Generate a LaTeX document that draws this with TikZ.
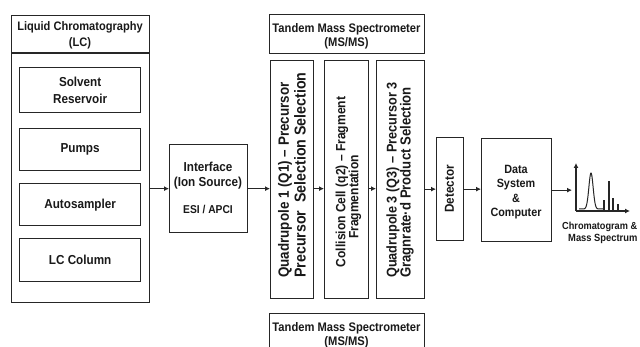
\documentclass[tikz,border=0pt]{standalone}
\usepackage{fontspec}
\setmainfont{Liberation Sans}[FakeStretch=0.9]
\usetikzlibrary{arrows.meta}
\newcommand{\fs}[1]{\fontsize{#1}{#1}\selectfont}
\begin{document}
\begin{tikzpicture}[x=1pt,y=-1pt,
  box/.style={draw=black!85,line width=1.3pt,inner sep=0pt,anchor=north west},
  txt/.style={font=\bfseries\fs{13},align=center,inner sep=0pt,text=black!90},
  rtxt/.style={txt,rotate=90,anchor=west},
  arr/.style={draw=black!85,line width=1.2pt,-{Latex[length=5pt,width=5pt]}},
  ax/.style={draw=black!85,line width=1.2pt}]
\useasboundingbox (0,0) rectangle (640,347);
\fill[white] (0,0) rectangle (640,347);
% LC
\node[box,minimum width=138pt,minimum height=287pt] (lc) at (11,15) {};
\draw[ax,line width=1.3pt] ([yshift=-38pt]lc.north west) -- ([yshift=-38pt]lc.north east) coordinate (lcdiv);
\node[txt,font=\bfseries\fontsize{12.3}{16}\selectfont] (lct) at (80,35) {Liquid Chromatography\\(LC)};
\node[box,minimum width=121pt,minimum height=45pt,txt,anchor=north west,font=\bfseries\fontsize{13}{17}\selectfont] (sr) at (19,67) {Solvent\\Reservoir};
\node[box,minimum width=121pt,minimum height=42pt,txt,anchor=north west] (pu) at (19,128) {Pumps};
\node[box,minimum width=121pt,minimum height=42pt,txt,anchor=north west] (au) at (19,183) {Autosampler};
\node[box,minimum width=121pt,minimum height=43pt,txt,anchor=north west] (lcc) at (19,238) {LC Column};
% Interface
\node[box,minimum width=78pt,minimum height=88pt] (int) at (169,144) {};
\node[txt,font=\bfseries\fontsize{13}{15}\selectfont] (intt) at (208,176) {Interface\\(Ion Source)};
\node[txt,font=\bfseries\fs{11.4}] (esi) at (208,209) {ESI / APCI};
% Tandem MS
\node[box,minimum width=155pt,minimum height=39pt] (ms) at (269,14) {};
\node[txt,font=\bfseries\fontsize{12.4}{14}\selectfont] (mst) at (346.5,36) {Tandem Mass Spectrometer\\(MS/MS)};
\node[box,minimum width=43pt,minimum height=238pt] (q1) at (270,60) {};
\node[box,minimum width=44pt,minimum height=238pt] (cc) at (324,60) {};
\node[box,minimum width=48pt,minimum height=238pt] (q3) at (376,60) {};
\node[rtxt,font=\bfseries\fs{14.9}] (q1a) at (285,278) {Quadrupole 1 (Q1) – Precursor};
\node[rtxt,font=\bfseries\fs{15.8}] (q1b) at (300,278) {Precursor\ \ Selection Selection};
\node[rtxt,anchor=center,font=\bfseries\fs{13.4}] (cca) at (342,182) {Collision Cell (q2) – Fragment};
\node[rtxt,anchor=center,font=\bfseries\fs{13.4}] (ccb) at (355,197) {Fragmentation};
\node[rtxt,font=\bfseries\fs{14.1}] (q3a) at (393,278) {Quadrupole 3 (Q3) – Precursor 3};
\node[rtxt,font=\bfseries\fs{14.6}] (q3b) at (407,278) {Gragnrate·d Product Selection};
% Detector & data
\node[box,minimum width=27pt,minimum height=103pt] (det) at (436,137) {};
\node[txt,rotate=90] (dett) at (449.5,189) {Detector};
\node[box,minimum width=70pt,minimum height=103pt] (data) at (481,138) {};
\node[txt,font=\bfseries\fontsize{12}{14.3}\selectfont] (datat) at (516,192) {Data\\System\\\&\\Computer};
% bottom MS
\node[box,minimum width=155pt,minimum height=45pt] (ms2) at (269,313) {};
\node[txt,font=\bfseries\fontsize{12.4}{14}\selectfont,anchor=north] (ms2t) at (346.5,322) {Tandem Mass Spectrometer\\(MS/MS)};
% arrows
\draw[arr] (lc.east |- int.west) -- (int.west);
\draw[arr] (int.east) -- (int.east -| q1.west);
\draw[arr] (q1.east |- int.east) -- (cc.west |- int.east);
\draw[arr] (cc.east |- int.east) -- (q3.west |- int.east);
\draw[arr] (q3.east |- det.west) -- (det.west);
\draw[arr] (det.east) -- (det.east -| data.west);
\coordinate (chartin) at (572,190);
\draw[arr] (data.east) -- (data.east -| chartin);
% chart
\coordinate (orig) at (576,211);
\coordinate (ytop) at (576,163);
\coordinate (xend) at (630,211);
\draw[ax,-{Latex[length=5pt,width=5pt]}] (orig) -- (ytop);
\draw[ax,-{Latex[length=5pt,width=5pt]}] (orig) -- (xend);
\draw[ax,line width=1pt] plot[domain=579:603,samples=60,smooth] (\x,{209-36*exp(-((\x-591)/3.0)^2)});
\draw[ax] (604,211) -- (604,200);
\draw[ax] (609,211) -- (609,181);
\draw[ax] (613,211) -- (613,198);
\draw[ax] (618,211) -- (618,204);
\node[txt,anchor=west,font=\bfseries\fs{10.2}] (chl1) at (562,227) {Chromatogram \&};
\node[txt,anchor=west,font=\bfseries\fs{10.4}] (chl2) at (568,239) {Mass Spectrum};
\end{tikzpicture}
\end{document}
